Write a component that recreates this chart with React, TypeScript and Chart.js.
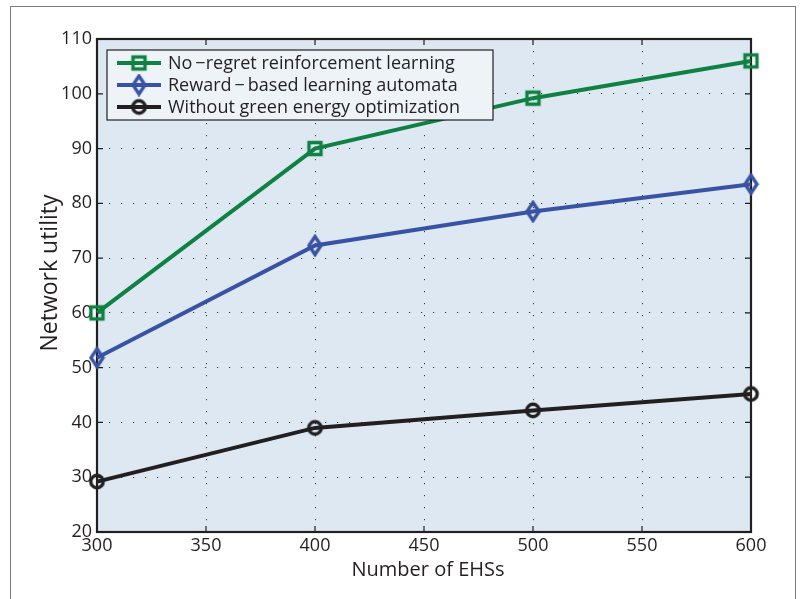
import { useEffect, useRef } from "react";
import { Chart, registerables } from "chart.js";

Chart.register(...registerables);

// ---- data ----
const xValues = [300, 400, 500, 600];
const noRegret = [60, 90, 99.2, 106];
const rewardBased = [51.8, 72.3, 78.5, 83.5];
const withoutGreen = [29.2, 39, 42.2, 45.2];
const seriesLabels = [
  "No\u2009\u2212regret reinforcement learning",
  "Reward\u2009\u2212\u2009based learning automata",
  "Without green energy optimization",
];
const xTitle = "Number of EHSs";
const yTitle = "Network utility";
const xTickValues = [300, 350, 400, 450, 500, 550, 600];
const yTickValues = [20, 30, 40, 50, 60, 70, 80, 90, 100, 110];

const GREEN = "#0f8142";
const BLUE = "#3853a4";
const BLACK = "#231f20";
const TEXT = "#231f20";
const PLOT_BG = "#dde8f2";
const LEGEND_BG = "#eef3f8";
const FONT = "'Open Sans', 'Noto Sans', sans-serif";

function makeMarker(kind: "square" | "diamond" | "circle", color: string) {
  const c = document.createElement("canvas");
  const w = kind === "diamond" ? 17 : 19;
  const h = kind === "diamond" ? 23 : 19;
  c.width = w;
  c.height = h;
  const ctx = c.getContext("2d")!;
  ctx.strokeStyle = color;
  ctx.lineWidth = 3.4;
  ctx.lineJoin = "miter";
  ctx.beginPath();
  if (kind === "square") {
    ctx.rect(3.5, 3.5, 12, 12);
  } else if (kind === "diamond") {
    ctx.moveTo(w / 2, 2.5);
    ctx.lineTo(w - 2.5, h / 2);
    ctx.lineTo(w / 2, h - 2.5);
    ctx.lineTo(2.5, h / 2);
    ctx.closePath();
  } else {
    ctx.arc(w / 2, h / 2, 6.2, 0, Math.PI * 2);
  }
  ctx.stroke();
  return c;
}

const frameAndLegend = {
  id: "frameAndLegend",
  beforeDraw(chart: any) {
    const { ctx, chartArea: a } = chart;
    ctx.save();
    ctx.fillStyle = PLOT_BG;
    ctx.fillRect(a.left, a.top, a.right - a.left, a.bottom - a.top);
    ctx.restore();
  },
  beforeDatasetsDraw(chart: any) {
    const { ctx, chartArea: a, scales } = chart;
    const xs = scales.x;
    const ys = scales.y;
    ctx.save();
    ctx.strokeStyle = BLACK;
    ctx.lineWidth = 1.2;
    ctx.beginPath();
    const tl = 6;
    xs.ticks.forEach((t: any) => {
      const px = xs.getPixelForValue(t.value);
      ctx.moveTo(px, a.bottom);
      ctx.lineTo(px, a.bottom - tl);
      ctx.moveTo(px, a.top);
      ctx.lineTo(px, a.top + tl);
    });
    ys.ticks.forEach((t: any) => {
      const py = ys.getPixelForValue(t.value);
      ctx.moveTo(a.left, py);
      ctx.lineTo(a.left + tl, py);
      ctx.moveTo(a.right, py);
      ctx.lineTo(a.right - tl, py);
    });
    ctx.stroke();
    ctx.lineWidth = 2.2;
    ctx.strokeRect(a.left, a.top, a.right - a.left, a.bottom - a.top);
    ctx.restore();
  },
  afterDraw(chart: any) {
    const { ctx, chartArea: a } = chart;
    ctx.save();
    // axis titles
    ctx.fillStyle = TEXT;
    ctx.textAlign = "center";
    ctx.textBaseline = "middle";
    ctx.font = `20px ${FONT}`;
    ctx.fillText(xTitle, (a.left + a.right) / 2 + 4, 570);
    ctx.save();
    ctx.font = `23px ${FONT}`;
    ctx.translate(50, 273);
    ctx.rotate(-Math.PI / 2);
    ctx.fillText(yTitle, 0, 0);
    ctx.restore();

    // legend
    const lx = a.left + 10;
    const ly = a.top + 11;
    const lw = 386;
    const lh = 70;
    ctx.fillStyle = LEGEND_BG;
    ctx.fillRect(lx, ly, lw, lh);
    ctx.strokeStyle = BLACK;
    ctx.lineWidth = 1.2;
    ctx.strokeRect(lx, ly, lw, lh);
    ctx.font = `18px ${FONT}`;
    ctx.textAlign = "left";
    ctx.textBaseline = "middle";
    chart.data.datasets.forEach((ds: any, i: number) => {
      const cy = ly + 13 + i * 22;
      ctx.strokeStyle = ds.borderColor;
      ctx.lineWidth = ds.borderWidth;
      ctx.beginPath();
      ctx.moveTo(lx + 10, cy);
      ctx.lineTo(lx + 54, cy);
      ctx.stroke();
      const img = ds.pointStyle as HTMLCanvasElement;
      ctx.drawImage(img, lx + 32 - img.width / 2, cy - img.height / 2);
      ctx.fillStyle = TEXT;
      ctx.fillText(ds.label, lx + 61, cy + 1);
    });
    ctx.restore();
  },
};

export default function App() {
  const ref = useRef<HTMLCanvasElement | null>(null);
  useEffect(() => {
    if (!ref.current) return;
    const mk = (label: string, vals: number[], color: string, marker: HTMLCanvasElement) => ({
      label,
      data: xValues.map((x, i) => ({ x, y: vals[i] })),
      borderColor: color,
      backgroundColor: color,
      borderWidth: 4,
      pointStyle: marker,
      pointRadius: 8,
      tension: 0,
      clip: false as const,
    });
    const chart = new Chart(ref.current, {
      type: "line",
      data: {
        datasets: [
          mk(seriesLabels[0], noRegret, GREEN, makeMarker("square", GREEN)),
          mk(seriesLabels[1], rewardBased, BLUE, makeMarker("diamond", BLUE)),
          mk(seriesLabels[2], withoutGreen, BLACK, makeMarker("circle", BLACK)),
        ],
      },
      plugins: [frameAndLegend],
      options: {
        animation: false,
        responsive: false,
        devicePixelRatio: 1,
        layout: { padding: { left: 0, right: 52, top: 39, bottom: 0 } },
        plugins: { legend: { display: false }, tooltip: { enabled: false } },
        scales: {
          x: {
            type: "linear",
            min: 300,
            max: 600,
            afterFit: (s: any) => {
              s.height = 67;
            },
            afterBuildTicks: (s: any) => {
              s.ticks = xTickValues.map((v) => ({ value: v }));
            },
            border: { display: false, dash: [1.2, 10.8] },
            grid: {
              drawTicks: false,
              color: "#3a3a3a",
              lineWidth: 1,
            },
            ticks: {
              padding: 3,
              color: TEXT,
              font: { family: FONT, size: 18 },
              maxRotation: 0,
              autoSkip: false,
            },
          },
          y: {
            type: "linear",
            min: 20,
            max: 110,
            afterFit: (s: any) => {
              s.width = 97;
            },
            afterBuildTicks: (s: any) => {
              s.ticks = yTickValues.map((v) => ({ value: v }));
            },
            border: { display: false, dash: [1.2, 10.8] },
            grid: {
              drawTicks: false,
              color: "#3a3a3a",
              lineWidth: 1,
            },
            ticks: {
              padding: 5,
              color: TEXT,
              font: { family: FONT, size: 18 },
              autoSkip: false,
            },
          },
        },
      },
    } as any);
    return () => chart.destroy();
  }, []);
  return (
    <div
      style={{
        position: "fixed",
        left: 0,
        top: 0,
        width: 803,
        height: 599,
        overflow: "hidden",
        background: "#fff",
      }}
    >
      <div
        style={{
          position: "absolute",
          left: 10,
          top: 6,
          width: 784,
          height: 700,
          borderLeft: "1.5px solid #7a7a7a",
          borderTop: "1.5px solid #7a7a7a",
          borderRight: "1.5px solid #7a7a7a",
        }}
      />
      <canvas
        ref={ref}
        width={803}
        height={599}
        style={{ position: "absolute", left: 0, top: 0, width: 803, height: 599 }}
      />
    </div>
  );
}
